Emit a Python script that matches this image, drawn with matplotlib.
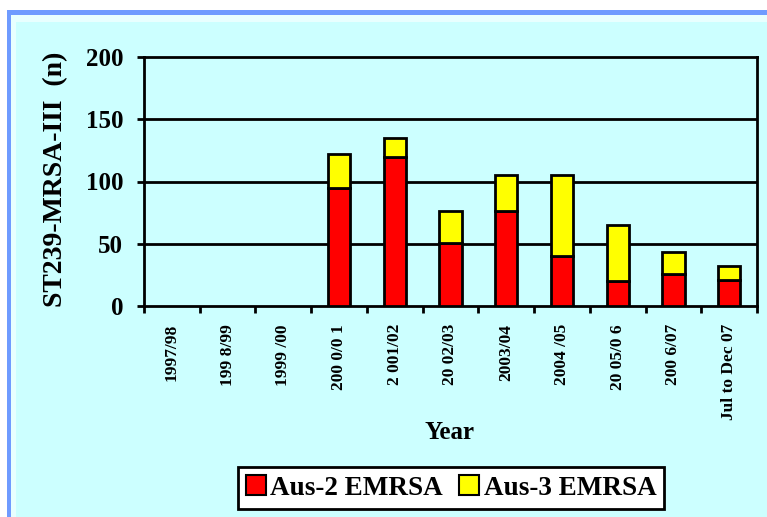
import matplotlib
matplotlib.use("Agg")
import matplotlib.pyplot as plt
from matplotlib.patches import Rectangle, Patch
import numpy as np

# Data
years = ["1997/98", "199 8/99", "1999 /00", "200 0/0 1", "2 001/02", "20 02/03",
         "2003/04", "2004 /05", "20 05/0 6", "200 6/07", "Jul to Dec 07"]
aus2 = [0, 0, 0, 95, 120, 51, 76, 40, 20, 26, 21]
aus3 = [0, 0, 0, 27, 15, 25, 29, 65, 45, 17, 11]
series_names = ["Aus-2 EMRSA", "Aus-3 EMRSA"]
yticks = [0, 50, 100, 150, 200]

CYAN = "#CCFFFF"
BLUE = "#6F9BFF"
RED = "#FF0000"
YELLOW = "#FFFF00"
plt.rcParams["font.family"] = ["Liberation Serif", "DejaVu Serif"]
plt.rcParams["font.weight"] = "bold"

W, H = 767, 517
fig = plt.figure(figsize=(W / 100, H / 100), dpi=100)
fig.patch.set_facecolor("white")

def px_rect(x0, y0, color):
    # rectangle from pixel (x0, y0) measured from top-left, running off the page
    fig.patches.append(Rectangle((x0 / W, -0.1), 1.2, 1 - y0 / H + 0.1,
                                 transform=fig.transFigure, facecolor=color,
                                 edgecolor="none", zorder=-10))

px_rect(7, 10, BLUE)
px_rect(11, 15, "#E8FFFF")
px_rect(16, 22, CYAN)

ax = fig.add_axes([144 / W, 1 - 306 / H, (757 - 144) / W, (306 - 57) / H])
ax.set_facecolor(CYAN)

x = np.arange(len(years))
lw2 = [2 if v > 0 else 0 for v in aus2]
lw3 = [2 if v > 0 else 0 for v in aus3]
ax.bar(x, aus2, width=0.4, color=RED, edgecolor="black", linewidth=lw2, zorder=3)
ax.bar(x, aus3, width=0.4, bottom=aus2, color=YELLOW, edgecolor="black",
       linewidth=lw3, zorder=3)

ax.set_xlim(-0.5, len(years) - 0.5)
ax.set_ylim(0, 200)
ax.set_yticks(yticks)
ax.set_yticklabels([str(v) for v in yticks], fontsize=18, fontweight="bold")
ax.set_xticks(x)
ax.set_xticklabels(years, rotation=90, fontsize=12.5, fontweight="bold", va="top")
ax.set_xticks(np.arange(-0.5, len(years)), minor=True)
ax.tick_params(axis="x", which="major", length=0, pad=13)
ax.tick_params(axis="x", which="minor", length=5, width=2, direction="out")
ax.tick_params(axis="y", which="major", length=5, width=2, direction="out", pad=10)

for v in yticks[1:-1]:
    ax.axhline(v, color="black", linewidth=2, zorder=1)
for s in ax.spines.values():
    s.set_linewidth(2)
    s.set_color("black")

ax.set_ylabel("ST239-MRSA-III  (n)", fontsize=20, fontweight="bold", va="center")
ax.yaxis.set_label_coords(-0.145, 0.508)
ax.set_xlabel("Year", fontsize=18, fontweight="bold", va="center")
ax.xaxis.set_label_coords(0.499, -0.51)

handles = [Patch(facecolor=RED, edgecolor="black", linewidth=1.5),
           Patch(facecolor=YELLOW, edgecolor="black", linewidth=1.5)]
leg = fig.legend(handles, series_names, loc="center",
                 bbox_to_anchor=(451 / W, 1 - 488 / H), ncol=2,
                 frameon=True, fancybox=False, handlelength=0.75,
                 handleheight=0.75, handletextpad=0.15, columnspacing=0.6,
                 borderpad=0.3, prop={"weight": "bold", "size": 19.5})
leg.get_frame().set_edgecolor("black")
leg.get_frame().set_linewidth(2)
leg.get_frame().set_facecolor("white")
leg.get_frame().set_alpha(1)

fig.savefig("out.png", dpi=100)
